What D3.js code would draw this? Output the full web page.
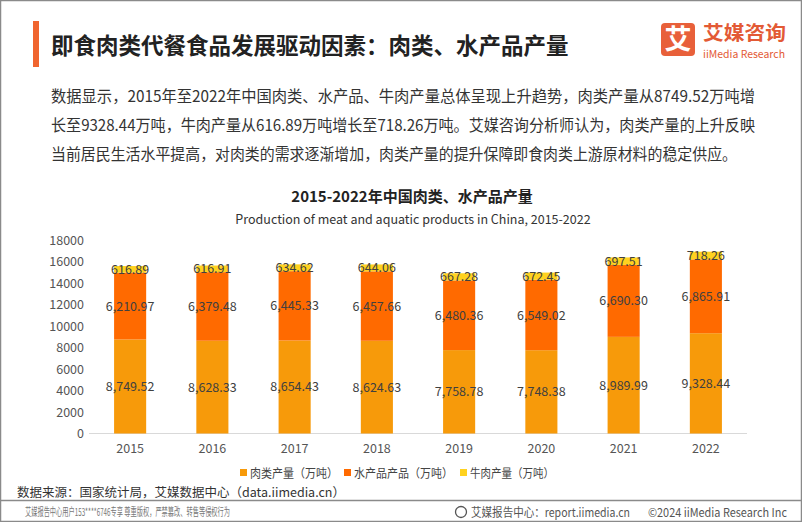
<!DOCTYPE html>
<html><head><meta charset="utf-8">
<script src="https://cdn.jsdelivr.net/npm/d3@7"></script>
<style>
html,body{margin:0;padding:0;background:#fff;}
svg{display:block;}
text{font-family:"Noto Sans CJK SC","Noto Sans",sans-serif;}
</style></head>
<body>
<svg id="c" width="802" height="522"></svg>
<script>
const years = ["2015","2016","2017","2018","2019","2020","2021","2022"];
const meat = [8749.52, 8628.33, 8654.43, 8624.63, 7758.78, 7748.38, 8989.99, 9328.44];
const aquatic = [6210.97, 6379.48, 6445.33, 6457.66, 6480.36, 6549.02, 6690.30, 6865.91];
const beef = [616.89, 616.91, 634.62, 644.06, 667.28, 672.45, 697.51, 718.26];
const seriesNames = ["肉类产量（万吨）","水产品产品（万吨）","牛肉产量（万吨）"];
const yTicks = [0,2000,4000,6000,8000,10000,12000,14000,16000,18000];
const colors = ["#F79A0A","#FF6A00","#FFD21F"];

const svg = d3.select("#c");

// frame
svg.append("rect").attr("x",0.5).attr("y",0.5).attr("width",801).attr("height",521)
  .attr("fill","none").attr("stroke","#8a8a8a").attr("stroke-width",1.5);

// header
svg.append("rect").attr("x",33).attr("y",21).attr("width",6).attr("height",46).attr("fill","#F0652F");
svg.append("text").attr("x",51).attr("y",54).attr("font-size",22.5).attr("font-weight","bold")
  .attr("fill","#222").text("即食肉类代餐食品发展驱动因素：肉类、水产品产量");

// logo
svg.append("rect").attr("x",661).attr("y",23).attr("width",34).attr("height",33).attr("rx",4).attr("fill","#E8603A");
svg.append("text").attr("x",678).attr("y",49).attr("text-anchor","middle").attr("font-size",27)
  .attr("font-weight","bold").attr("fill","#fff").text("艾");
svg.append("text").attr("x",703).attr("y",40).attr("font-size",19.5).attr("font-weight","bold")
  .attr("fill","#E35A35").attr("textLength",83).attr("lengthAdjust","spacingAndGlyphs").text("艾媒咨询");
svg.append("text").attr("x",703).attr("y",58).attr("font-size",11)
  .attr("fill","#E35A35").attr("textLength",82).attr("lengthAdjust","spacingAndGlyphs").text("iiMedia Research");

// paragraph
const para = [
  ["数据显示，2015年至2022年中国肉类、水产品、牛肉产量总体呈现上升趋势，肉类产量从8749.52万吨增", 704],
  ["长至9328.44万吨，牛肉产量从616.89万吨增长至718.26万吨。艾媒咨询分析师认为，肉类产量的上升反映", 704],
  ["当前居民生活水平提高，对肉类的需求逐渐增加，肉类产量的提升保障即食肉类上游原材料的稳定供应。", 686]
];
para.forEach((p,i)=>{
  svg.append("text").attr("x",51).attr("y",102+i*29).attr("font-size",15.5).attr("fill","#333")
    .attr("textLength",p[1]).attr("lengthAdjust","spacingAndGlyphs").text(p[0]);
});

// chart titles
svg.append("text").attr("x",412).attr("y",202).attr("text-anchor","middle").attr("font-size",15)
  .attr("font-weight","bold").attr("fill","#222").text("2015-2022年中国肉类、水产品产量");
svg.append("text").attr("x",413).attr("y",224).attr("text-anchor","middle").attr("font-size",12.5)
  .attr("fill","#333").text("Production of meat and aquatic products in China, 2015-2022");

// scales
const x = d3.scaleBand().domain(years).range([89,747]).paddingInner(0.61).paddingOuter(0.305);
const y = d3.scaleLinear().domain([0,18000]).range([433.5,240]);

// y axis labels
const yAxis = d3.axisLeft(y).tickValues(yTicks).tickSize(0).tickPadding(0).tickFormat(d3.format("d"));
const yg = svg.append("g").attr("transform","translate(84,0)").call(yAxis);
yg.select(".domain").remove();
yg.selectAll("text").attr("font-size",12.5).attr("fill","#555").attr("font-family","'Noto Sans CJK SC',sans-serif");

// baseline
svg.append("line").attr("x1",89).attr("x2",747).attr("y1",y(0)).attr("y2",y(0)).attr("stroke","#d9d9d9").attr("stroke-width",1);

// stacked data
const rows = years.map((yr,i)=>({year:yr, s0:meat[i], s1:aquatic[i], s2:beef[i]}));
const stack = d3.stack().keys(["s0","s1","s2"])(rows);

stack.forEach((layer,li)=>{
  const g = svg.append("g");
  g.selectAll("rect").data(layer).join("rect")
    .attr("x",d=>x(d.data.year)).attr("width",x.bandwidth())
    .attr("y",d=>y(d[1])).attr("height",d=>y(d[0])-y(d[1]))
    .attr("fill",colors[li]);
  g.selectAll("text").data(layer).join("text")
    .attr("x",d=>x(d.data.year)+x.bandwidth()/2)
    .attr("y",d=>(y(d[0])+y(d[1]))/2 + 4.5)
    .attr("text-anchor","middle").attr("font-size",12.5).attr("fill","#404040")
    .text(d=>d3.format(",.2f")(d[1]-d[0]));
});

// x axis
const xAxis = d3.axisBottom(x).tickSize(0).tickPadding(0);
const xg = svg.append("g").attr("transform",`translate(0,${y(0)+19})`).call(xAxis);
xg.select(".domain").remove();
xg.selectAll("text").attr("font-size",12.5).attr("fill","#555").attr("dy",0).attr("font-family","'Noto Sans CJK SC',sans-serif");

// legend
const legX = [240, 344, 460];
const legW = [88, 99, 84];
seriesNames.forEach((n,i)=>{
  svg.append("rect").attr("x",legX[i]).attr("y",469).attr("width",7).attr("height",7).attr("fill",colors[i]);
  svg.append("text").attr("x",legX[i]+10).attr("y",477.5).attr("font-size",12).attr("fill","#444")
    .attr("textLength",legW[i]).attr("lengthAdjust","spacingAndGlyphs").text(n);
});

// source
svg.append("text").attr("x",17).attr("y",497).attr("font-size",12.5).attr("fill","#333")
  .text("数据来源：国家统计局，艾媒数据中心（data.iimedia.cn）");

// footer
svg.append("line").attr("x1",0).attr("x2",802).attr("y1",500.5).attr("y2",500.5).attr("stroke","#8a8a8a").attr("stroke-width",1.5);
svg.append("text").attr("x",25).attr("y",516).attr("font-size",11).attr("fill","#777")
  .attr("font-family","'Noto Serif CJK SC','DejaVu Serif',serif")
  .attr("textLength",205).attr("lengthAdjust","spacingAndGlyphs")
  .text("艾媒报告中心用户153****6746专享 尊重版权，严禁篡改、转售等侵权行为");
svg.append("circle").attr("cx",461).attr("cy",512).attr("r",5.5).attr("fill","none").attr("stroke","#555").attr("stroke-width",1.3);
svg.append("text").attr("x",471).attr("y",516.5).attr("font-size",12).attr("fill","#555")
  .attr("textLength",159).attr("lengthAdjust","spacingAndGlyphs").text("艾媒报告中心：report.iimedia.cn");
svg.append("text").attr("x",648).attr("y",516.5).attr("font-size",12).attr("fill","#555")
  .attr("textLength",139).attr("lengthAdjust","spacingAndGlyphs").text("©2024  iiMedia Research Inc");
</script>
</body></html>
